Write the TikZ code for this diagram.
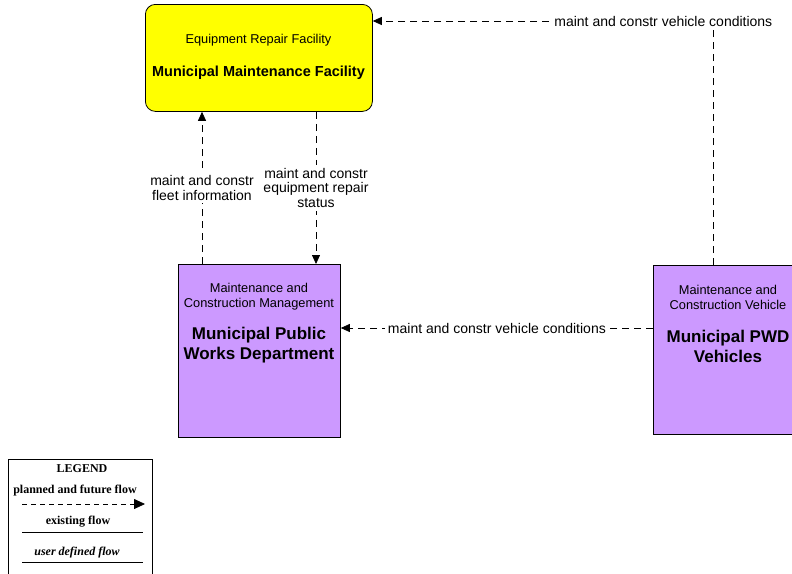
\documentclass[tikz,border=0pt]{standalone}
\usepackage{fontspec}
\setmainfont{Liberation Serif}
\setsansfont{Liberation Sans}
\usetikzlibrary{arrows.meta}
\definecolor{facilityfill}{RGB}{255,255,0}
\definecolor{centerfill}{RGB}{204,153,255}
\tikzset{
  every node/.style={font=\sffamily, inner sep=0pt},
  boxline/.style={draw=black, line width=0.8pt},
  facility/.style={boxline, fill=facilityfill, rounded corners=10pt, anchor=north west},
  center/.style={boxline, fill=centerfill, anchor=north west},
  roletext/.style={font=\sffamily\fontsize{12.8}{15}\selectfont, align=center},
  nametext/.style={font=\sffamily\bfseries\fontsize{17}{20}\selectfont, align=center},
  flowlabel/.style={font=\sffamily\fontsize{14}{14.8}\selectfont, align=center, fill=white, inner sep=3pt},
  flow/.style={draw=black, line width=0.8pt, dash pattern=on 7pt off 5pt,
    -{Triangle[length=9pt,width=8pt]}},
  legendtext/.style={font=\rmfamily\bfseries\fontsize{12}{13}\selectfont},
}
\begin{document}
\begin{tikzpicture}[x=1pt,y=-1pt]
\useasboundingbox (0,0) rectangle (792,573);
\clip (0,0) rectangle (792,573);

% terminators and centers
\node[facility, minimum width=227pt, minimum height=107pt] (mmf) at (145,4) {};
\node[roletext] (mmfrole) at (258.5,40) {Equipment Repair Facility};
\node[font=\sffamily\bfseries\fontsize{14.5}{16}\selectfont] (mmfname) at (258.5,73) {Municipal Maintenance Facility};

\node[center, minimum width=162pt, minimum height=173pt] (pwd) at (178,264) {};
\node[roletext] (pwdrole) at (259,296.5) {Maintenance and\\Construction Management};
\node[nametext] (pwdname) at (259,345) {Municipal Public\\Works Department};

\node[center, minimum width=150pt, minimum height=169pt] (veh) at (653,265) {};
\node[roletext] (vehrole) at (728,297.5) {Maintenance and\\Construction Vehicle};
\node[nametext] (vehname) at (728,346) {Municipal PWD\\Vehicles};

% information flows
\draw[flow] ([xshift=24pt]pwd.north west) -- ([xshift=24pt]pwd.north west |- mmf.south)
  node[flowlabel, midway] (fleet) {maint and constr\\fleet information};
\draw[flow] ([xshift=138pt]pwd.north west |- mmf.south) -- ([xshift=138pt]pwd.north west)
  node[flowlabel, midway] (repair) {maint and constr\\equipment repair\\status};
\draw[flow] ([xshift=60pt]veh.north west) |- ([yshift=-17pt]mmf.north east)
  node[flowlabel, pos=0.573] (vehcond1) {maint and constr vehicle conditions};
\draw[flow] ([yshift=-63pt]veh.north west) -- ([yshift=-63pt]veh.north west -| pwd.east)
  node[flowlabel, midway] (vehcond2) {maint and constr vehicle conditions};

% legend
\draw[line width=0.8pt] (8,459) rectangle (152,590);
\node[legendtext] (legtitle) at (82,469) {LEGEND};
\node[legendtext] (legplanned) at (75,491) {planned and future flow};
\draw[line width=0.8pt, dash pattern=on 5pt off 4pt, -{Triangle[length=11pt,width=10pt]}] (22,504) -- (145,504);
\node[legendtext] (legexisting) at (78,522) {existing flow};
\draw[line width=0.8pt] (22,532) -- (143,532);
\node[legendtext, font=\rmfamily\bfseries\itshape\fontsize{12}{13}\selectfont] (leguser) at (77,553) {user defined flow};
\draw[line width=0.8pt] (22,562) -- (143,562);
\end{tikzpicture}
\end{document}
